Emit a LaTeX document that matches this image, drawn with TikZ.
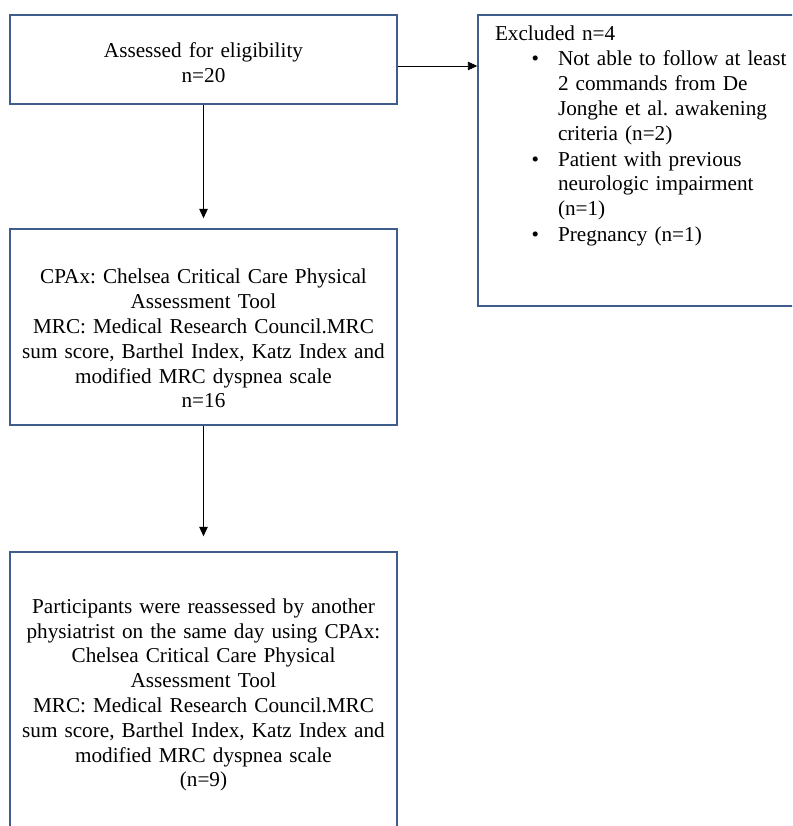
\documentclass[tikz,border=0pt]{standalone}
\usepackage{fontspec}
\setmainfont{Liberation Serif}
\usetikzlibrary{arrows.meta,positioning}
\definecolor{boxblue}{RGB}{62,92,140}

\tikzstyle{block} = [rectangle, draw=boxblue, line width=1.4pt, text width=375pt, align=center,
    inner xsep=4pt, inner ysep=2pt, minimum width=387pt, font=\fontsize{21.2}{24.8}\selectfont\frenchspacing]
\tikzstyle{excl} = [block, text width=296pt, align=left, inner xsep=17pt, minimum width=330pt, minimum height=291pt]
\tikzstyle{line} = [draw, line width=0.9pt, -{Triangle[width=8.5pt,length=9.5pt]}]

\begin{document}
\begin{tikzpicture}[x=1pt, y=1pt, node distance=267.5pt]
	\clip (0,0) rectangle (792,826);
	% Nodes
	\node [block, minimum height=89pt] (Assessed) at (203.5,766.5) {\rule{0pt}{21pt}Assessed for eligibility\\n=20};
	\node [block, below of=Assessed, minimum height=196pt] (Measured) {\rule{0pt}{38pt}CPAx: Chelsea Critical Care Physical\\Assessment Tool\\MRC: Medical Research Council.MRC\\sum score, Barthel Index, Katz Index and\\modified MRC dyspnea scale\\n=16};
	\node [block, below of=Measured, node distance=368pt, minimum height=286pt] (Reassessed) {Participants were reassessed by another\\physiatrist on the same day using CPAx:\\Chelsea Critical Care Physical\\Assessment Tool\\MRC: Medical Research Council.MRC\\sum score, Barthel Index, Katz Index and\\modified MRC dyspnea scale\\(n=9)};
	\node [excl, right of=Assessed, node distance=439.5pt, yshift=-101pt] (Excluded) {Excluded n=4
		\begin{list}{\textbullet}{\setlength{\leftmargin}{63pt}\setlength{\labelsep}{19pt}\setlength{\labelwidth}{40pt}%
			\setlength{\topsep}{1pt}\setlength{\itemsep}{1pt}\setlength{\parsep}{0pt}\setlength{\partopsep}{0pt}\raggedright}
		\item \mbox{Not able to follow at least}\\2 commands from De\\Jonghe et al. awakening\\criteria (n=2)
		\item Patient with previous\\neurologic impairment\\(n=1)
		\item Pregnancy (n=1)\rule[-54pt]{0pt}{0pt}
		\end{list}};

	% Arrows
	\path [line, shorten >=10pt] (Assessed) -- (Measured);
	\path [line, shorten >=15pt] (Measured) -- (Reassessed);
	\path [line] ([yshift=-6.5pt]Assessed.east) -- ([yshift=-6.5pt]Assessed.east -| Excluded.west);
\end{tikzpicture}
\end{document}
